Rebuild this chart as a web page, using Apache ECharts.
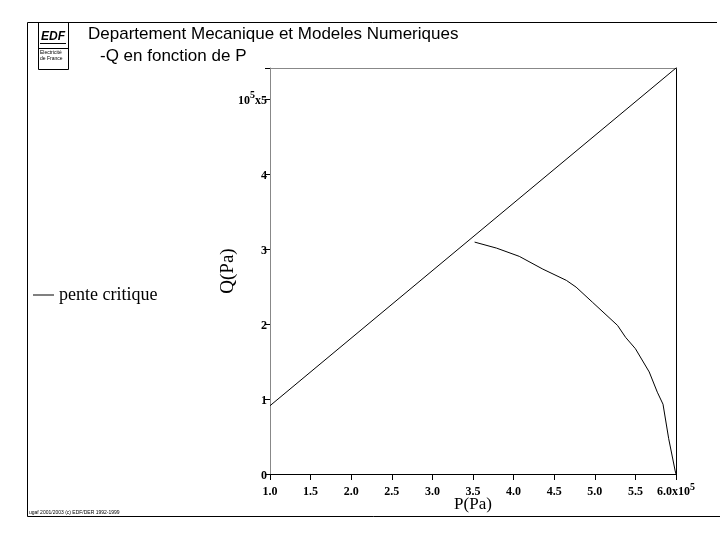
<!DOCTYPE html>
<html>
<head>
<meta charset="utf-8">
<script src="https://cdn.jsdelivr.net/npm/echarts@6/dist/echarts.min.js"></script>
<style>
html,body{margin:0;padding:0;background:#fff;}
#chart{width:720px;height:556px;}
</style>
</head>
<body>
<div id="chart"></div>
<script>
// Data (P in 1e5 Pa, Q in 1e5 Pa)
const critP = [1.0, 6.0];
const critQ = [0.91, 5.41];
const curveP = [3.52, 3.79, 4.07, 4.36, 4.65, 4.77, 4.97, 5.28, 5.38, 5.50, 5.67, 5.77, 5.84, 5.91, 5.99, 6.0];
const curveQ = [3.09, 3.01, 2.90, 2.73, 2.58, 2.49, 2.29, 1.98, 1.82, 1.67, 1.36, 1.09, 0.93, 0.47, 0.04, 0.0];
const xTicks = [1.0, 1.5, 2.0, 2.5, 3.0, 3.5, 4.0, 4.5, 5.0, 5.5, 6.0];
const yTicks = [0, 1, 2, 3, 4, 5];
const xMin = 1.0, xMax = 6.0, yMin = 0, yMax = 5.41;

const serif = 'Liberation Serif';
const sans = 'Liberation Sans';

const chart = echarts.init(document.getElementById('chart'), null, {renderer: 'canvas'});

const supRich = {
  n: {fontFamily: serif, fontSize: 12, fontWeight: 'bold', color: '#000', lineHeight: 16, verticalAlign: 'bottom'},
  sup: {fontFamily: serif, fontSize: 10, fontWeight: 'bold', color: '#000', lineHeight: 16, verticalAlign: 'top', padding: [0, 0, 6, 0]}
};

const option = {
  animation: false,
  backgroundColor: '#fff',
  grid: {left: 270, right: 44, top: 68, bottom: 82, containLabel: false},
  legend: {
    data: ['pente critique'],
    left: 33, top: 286, padding: 0,
    itemWidth: 21, itemHeight: 1,
    icon: 'rect',
    textStyle: {fontFamily: serif, fontSize: 18, color: '#000'}
  },
  xAxis: [{
    type: 'value', min: xMin, max: xMax, interval: 0.5,
    name: 'P(Pa)', nameLocation: 'middle', nameGap: 22, nameMoveOverlap: false,
    nameTextStyle: {fontFamily: serif, fontSize: 17, color: '#000'},
    axisLine: {show: true, onZero: false, lineStyle: {color: '#000', width: 1}},
    axisTick: {show: true, inside: false, length: 6, lineStyle: {color: '#000'}},
    splitLine: {show: false},
    axisLabel: {
      margin: 8,
      formatter: function (v) {
        if (xTicks.indexOf(v) < 0) return '';
        return v === 6 ? '{n|6.0x10}{sup|5}' : '{n|' + v.toFixed(1) + '}';
      },
      rich: supRich
    }
  }, {
    type: 'value', position: 'top', min: xMin, max: xMax,
    axisLine: {show: true, onZero: false, lineStyle: {color: '#888', width: 1}},
    axisTick: {show: false}, axisLabel: {show: false}, splitLine: {show: false}
  }],
  yAxis: [{
    type: 'value', min: yMin, max: yMax, interval: 1,
    name: 'Q(Pa)', nameLocation: 'middle', nameGap: 32, nameRotate: 90, nameMoveOverlap: false,
    nameTextStyle: {fontFamily: serif, fontSize: 19, color: '#000'},
    axisLine: {show: true, onZero: false, lineStyle: {color: '#888', width: 1}},
    axisTick: {show: true, inside: false, length: 5, lineStyle: {color: '#000'}},
    splitLine: {show: false},
    axisLabel: {
      margin: 3,
      formatter: function (v) {
        if (yTicks.indexOf(v) < 0) return '';
        return v === 5 ? '{n|10}{sup|5}{n|x5}' : '{n|' + v + '}';
      },
      rich: supRich
    }
  }, {
    type: 'value', position: 'right', min: yMin, max: yMax,
    axisLine: {show: true, onZero: false, lineStyle: {color: '#000', width: 1}},
    axisTick: {show: false}, axisLabel: {show: false}, splitLine: {show: false}
  }],
  series: [{
    name: 'pente critique', type: 'line', showSymbol: false, symbol: 'none',
    color: '#000',
    lineStyle: {color: '#000', width: 1},
    data: critP.map((p, i) => [p, critQ[i]])
  }, {
    name: 'courbe', type: 'line', showSymbol: false, symbol: 'none',
    color: '#000',
    lineStyle: {color: '#000', width: 1},
    data: curveP.map((p, i) => [p, curveQ[i]])
  }],
  graphic: [
    // outer frame
    {type: 'line', shape: {x1: 27.5, y1: 22.5, x2: 717, y2: 22.5}, style: {stroke: '#000', lineWidth: 1}},
    {type: 'line', shape: {x1: 27.5, y1: 22.5, x2: 27.5, y2: 516.5}, style: {stroke: '#000', lineWidth: 1}},
    {type: 'line', shape: {x1: 27.5, y1: 516.5, x2: 720, y2: 516.5}, style: {stroke: '#000', lineWidth: 1}},
    // logo box
    {type: 'rect', shape: {x: 38.5, y: 22.5, width: 30, height: 47}, style: {fill: 'none', stroke: '#000', lineWidth: 1}},
    {type: 'line', shape: {x1: 38.5, y1: 48.5, x2: 68.5, y2: 48.5}, style: {stroke: '#000', lineWidth: 1}},
    {type: 'text', x: 53, y: 37, style: {text: 'EDF', font: 'italic bold 12px ' + sans, fill: '#000', textAlign: 'center', textVerticalAlign: 'middle'}},
    {type: 'line', shape: {x1: 40, y1: 43.5, x2: 66, y2: 43.5}, style: {stroke: '#000', lineWidth: 1}},
    {type: 'text', x: 40, y: 53, style: {text: 'Electricité', font: '5px ' + sans, fill: '#000', textVerticalAlign: 'middle'}},
    {type: 'text', x: 40, y: 59, style: {text: 'de France', font: '5px ' + sans, fill: '#000', textVerticalAlign: 'middle'}},
    // titles
    {type: 'text', x: 88, y: 34, style: {text: 'Departement Mecanique et Modeles Numeriques', font: '17px ' + sans, fill: '#000', textVerticalAlign: 'middle'}},
    {type: 'text', x: 100, y: 56, style: {text: '-Q en fonction de P', font: '17px ' + sans, fill: '#000', textVerticalAlign: 'middle'}},
    // footnote
    {type: 'text', x: 29, y: 513, style: {text: 'ugaf 2001/2003 (c) EDF/DER 1992-1999', font: '5px ' + sans, fill: '#000', textVerticalAlign: 'middle'}}
  ]
};
chart.setOption(option);
</script>
</body>
</html>
